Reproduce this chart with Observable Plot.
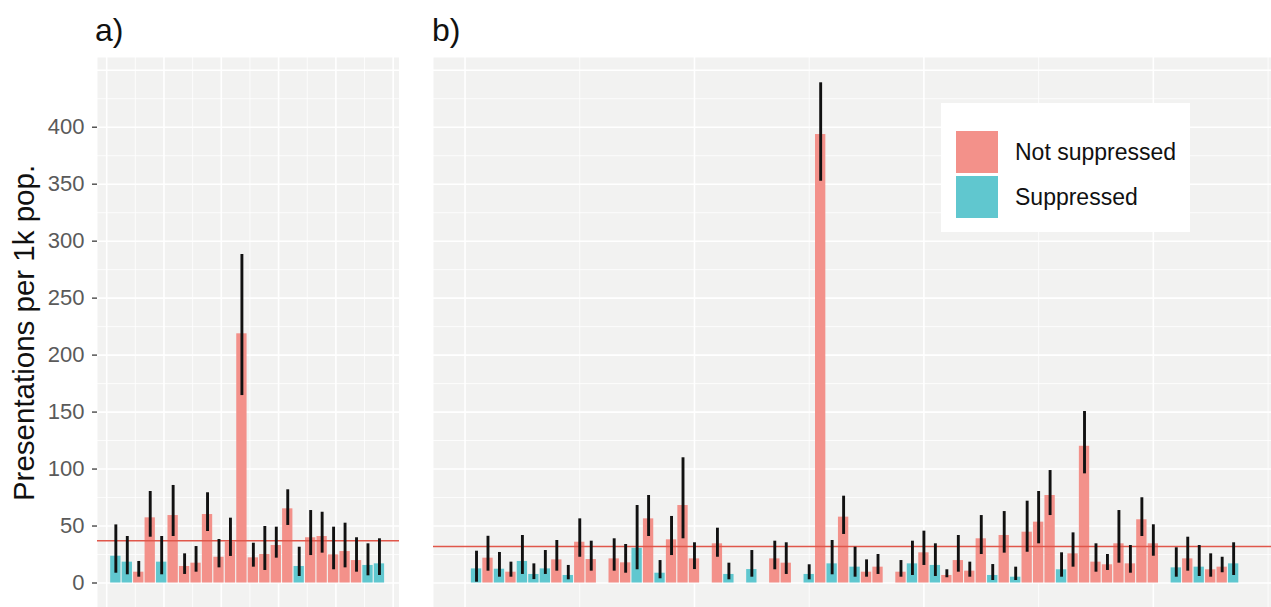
<!DOCTYPE html>
<html>
<head>
<meta charset="utf-8">
<script src="https://cdn.jsdelivr.net/npm/d3@7"></script>
<script src="https://cdn.jsdelivr.net/npm/@observablehq/plot@0.6"></script>
<style>
  html, body { margin: 0; padding: 0; background: #fff; }
  #root { position: relative; width: 1271px; height: 607px; overflow: hidden; font-family: "Liberation Sans", Arial, sans-serif; }
  .panel { position: absolute; top: 57px; }
  .title { position: absolute; font-size: 32px; line-height: 1; color: #111; }
  #ylab { position: absolute; left: 24px; top: 333px; transform: translate(-50%, -50%) rotate(-90deg); font-size: 29.5px; white-space: nowrap; color: #111; }
  #legend { position: absolute; left: 941px; top: 103px; width: 249px; height: 129px; background: #fff; }
  .sw { position: absolute; left: 15px; width: 42px; height: 42px; }
  .lt { position: absolute; left: 74px; font-size: 23px; line-height: 1; color: #111; transform: translateY(-50%); white-space: nowrap; }
</style>
</head>
<body>
<div id="root">
  <div class="title" style="left:95px;top:14px;">a)</div>
  <div class="title" style="left:432px;top:14px;">b)</div>
  <div id="ylab">Presentations per 1k pop.</div>
  <div id="pa" class="panel" style="left:0px;"></div>
  <div id="pb" class="panel" style="left:433px;"></div>
  <div id="legend"></div>
</div>
<script>
// ---------- data ----------
const categories = ["Not suppressed", "Suppressed"];
const colors = ["#f3918a", "#60c7cf"];

// Panel a) — 24 consecutive periods
const aValue = [23.5,18.3,9.5,57.2,18.3,59.2,14.5,17.4,60.1,22.6,36,218.7,22.1,25,32.9,65.1,14.5,39.7,40.8,24.7,27.6,19.7,15.4,16.8];
const aLow   = [8.6,7.2,5.1,40.2,7.2,40.8,7.5,9.5,45.2,13.3,23.3,164.5,13.9,11,21.8,50.5,5.7,24.1,26.2,11.6,13.3,9.5,6.3,6.6];
const aHigh  = [51,40.8,18.9,80.3,40.8,85.6,25.6,32,79.2,38.2,56.9,288.3,34.9,49.6,49,81.8,31.4,63.6,62.1,49,52.5,39.7,34.4,38.8];
const aSupp  = [1,1,0,0,1,0,0,0,0,0,0,0,0,0,0,0,1,0,0,0,0,0,1,1];
const aRef = 37;

// Panel b) — 67 periods, null = no bar
const bValue = [12.4,21.8,12.1,9.5,18.9,7.5,12.4,20.3,6.6,35.8,20.6,null,21.2,17.7,30.5,56.3,8.6,37.9,68,21.2,null,34.4,7.5,null,11.8,null,21.2,17.4,null,7.5,393.6,16.8,57.8,13.9,9.5,13.9,null,9.5,16.8,26.5,15.4,6.6,19.7,10.4,38.8,6.6,41.7,5.1,44.6,53.4,76.8,11.6,25.6,120,18.3,16,34.4,16.8,55.5,34.4,null,13.3,21.2,13.9,11.6,13.9,16.8];
const bLow   = [0.7,10.4,5.1,5.1,7.5,3,7.5,10.4,2.8,22.6,10.4,null,10.4,8.6,11.6,40.8,3.7,24.1,38.8,11.8,null,22.6,2.8,null,5.1,null,11.6,7.5,null,2.8,352.6,7.2,42.6,5.1,5.1,7.5,null,5.1,6.6,15.4,5.7,4.6,9.5,5.1,25,2.2,26.2,2.2,27,34.4,59.2,5.1,13.9,95.8,9.5,11,17.4,8.6,40.8,23.5,null,5.1,10.4,5.7,5.1,9,6.6];
const bHigh  = [27.9,41,26.8,18.3,41.7,16.8,28.5,37.3,15.4,56.3,36.7,null,38.8,33.8,68,76.8,19.7,58.4,109.9,35.3,null,48.1,17.4,null,28.5,null,36.7,35.3,null,16,439,37.3,76.2,31.4,20.3,25,null,19.7,36.7,45.5,34.4,11.6,41.7,18.3,59.2,16.2,62.7,13.9,71.8,80.3,98.7,26.5,44,150.5,34.4,25,63.6,32.9,74.8,51.1,null,30.9,40.2,32.9,25.6,22.6,35.3];
const bSupp  = [1,0,1,0,1,1,1,0,1,0,0,null,0,0,1,0,1,0,0,0,null,0,1,null,1,null,0,0,null,1,0,1,0,1,0,0,null,0,1,0,1,0,0,0,0,1,0,1,0,0,0,1,0,0,0,0,0,0,0,0,null,1,0,1,0,0,1];
const bRef = 32;

const yTicks = [0,50,100,150,200,250,300,350,400];
const yMajorGrid = [0,50,100,150,200,250,300,350,400,450];
const yMinorGrid = [25,75,125,175,225,275,325,375,425];
const aGridMajor = [-0.8,4.2,9.2,14.2,19.2,24.2];
const aGridMinor = [1.7,6.7,11.7,16.7,21.7];
const bGridMajor = [-1,19,39,59];
const bGridMinor = [9,29,49,69];

// ---------- build tables ----------
function table(vals, lows, highs, supp) {
  const out = [];
  vals.forEach((v, i) => {
    if (v == null) return;
    out.push({i, v, lo: lows[i], hi: highs[i], s: categories[supp[i]]});
  });
  return out;
}
const dataA = table(aValue, aLow, aHigh, aSupp);
const dataB = table(bValue, bLow, bHigh, bSupp);

const yDomain = [-21.5, 461.2];
const H = 550;

function panel({data, ref, xDomain, gridMajor, gridMinor, width, marginLeft, showY}) {
  return Plot.plot({
    width, height: H,
    marginLeft, marginRight: 0, marginTop: 0, marginBottom: 0,
    style: {fontFamily: '"Liberation Sans", Arial, sans-serif', background: "transparent"},
    x: {type: "linear", domain: xDomain, axis: null},
    y: {domain: yDomain, axis: null},
    color: {domain: categories, range: colors},
    marks: [
      Plot.frame({fill: "#f2f2f1", stroke: null}),
      Plot.ruleY(yMinorGrid, {stroke: "#fff", strokeWidth: 0.8}),
      Plot.ruleY(yMajorGrid, {stroke: "#fff", strokeWidth: 1.6}),
      Plot.ruleX(gridMinor, {stroke: "#fff", strokeWidth: 0.8}),
      Plot.ruleX(gridMajor, {stroke: "#fff", strokeWidth: 1.6}),
      showY ? Plot.axisY(yTicks, {anchor: "left", tickSize: 5, tickPadding: 8, fontSize: 22, color: "#5a5a5a", stroke: "#555", strokeWidth: 1.5, label: null}) : null,
      Plot.rectY(data, {x1: d => d.i - 0.45, x2: d => d.i + 0.45, y1: 0, y2: "v", fill: "s"}),
      Plot.ruleY([ref], {stroke: "#e0574b", strokeWidth: 1.5}),
      Plot.ruleX(data, {x: "i", y1: "lo", y2: "hi", stroke: "#111", strokeWidth: 2.9})
    ]
  });
}

document.getElementById("pa").append(panel({
  data: dataA, ref: aRef, xDomain: [-1.6, 24.75], gridMajor: aGridMajor, gridMinor: aGridMinor,
  width: 399, marginLeft: 97, showY: true
}));
document.getElementById("pb").append(panel({
  data: dataB, ref: bRef, xDomain: [-3.75, 69.3], gridMajor: bGridMajor, gridMinor: bGridMinor,
  width: 838, marginLeft: 0, showY: false
}));

// legend
const leg = document.getElementById("legend");
categories.forEach((c, k) => {
  const sw = document.createElement("div");
  sw.className = "sw";
  sw.style.top = (28 + k * 45) + "px";
  sw.style.background = colors[k];
  leg.append(sw);
  const t = document.createElement("div");
  t.className = "lt";
  t.style.top = (49 + k * 45) + "px";
  t.textContent = c;
  leg.append(t);
});
</script>
</body>
</html>
